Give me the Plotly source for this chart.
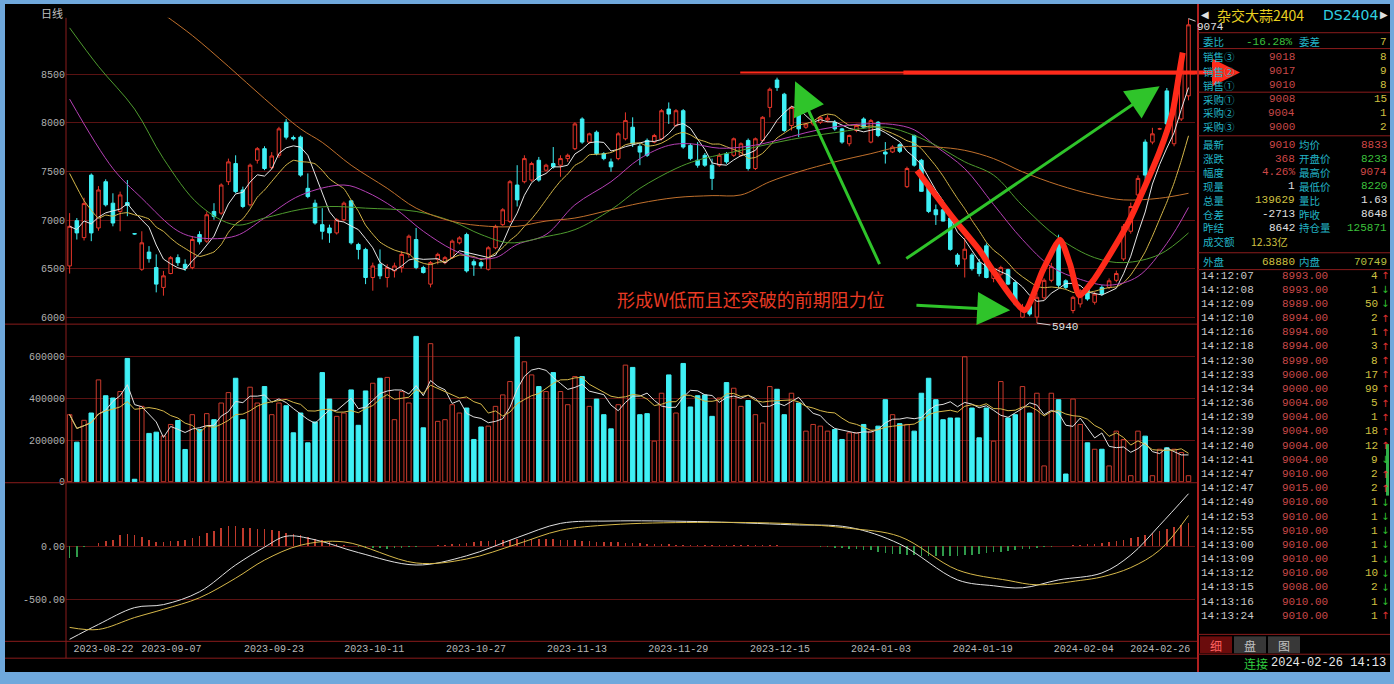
import plotly.graph_objects as go
import pandas as pd

W, H = 1394, 684
MONO = "Liberation Mono"
CJK = "Noto Sans CJK SC"

# ---------------- data ----------------
opens = [6528,6994,6820,7463,6919,7395,7174,7089,7180,6860,
         6494,6671,6511,6307,6450,6613,6545,6511,6851,6783,
         7089,7072,7395,7582,7310,7157,7616,7735,7540,7667,
         8007,7850,7854,7327,7174,6953,6919,6868,7004,7198,
         6749,6698,6409,6545,6409,6477,6511,6647,6800,6511,
         6341,6596,6562,6613,6766,6851,6572,6562,6494,6715,
         6953,6987,7361,7395,7412,7616,7514,7582,7565,7633,
         7735,8041,7803,7905,7684,7599,7633,7837,7956,7760,
         7820,7803,7837,8143,7973,8126,7769,7616,7667,7565,
         7565,7684,7667,7667,7820,7531,7820,8160,8442,8296,
         7973,8126,7956,7990,8007,8030,8007,7939,7786,7922,
         8041,7803,8007,7700,7701,7776,7344,7871,7616,7361,
         7106,7106,7021,6640,6600,6640,6560,6735,6400,6443,
         6490,6358,6000,6120,6001,6200,6380,6790,6375,6069,
         6137,6290,6154,6307,6307,6380,6600,6885,7259,7803,
         7803,7939,8330,7786,8041,8279]
highs = [7072,7021,7230,7480,7350,7420,7276,7293,7412,6865,
         6885,6732,6647,6477,6630,6647,6596,6834,6885,7089,
         7174,7378,7633,7667,7344,7582,7752,7760,7700,7960,
         8040,7870,7870,7480,7210,7123,6953,7021,7191,7208,
         6766,6715,6562,6698,6545,6562,6681,6851,6919,6530,
         6579,6664,6630,6800,6834,6870,6596,6580,6732,6953,
         7123,7412,7565,7667,7600,7650,7580,7752,7667,7684,
         8007,8058,7900,7922,7700,7633,7905,8109,8058,7786,
         7840,7888,8143,8211,8143,8143,7790,7803,7690,7633,
         7690,7700,7850,7800,7840,7850,8070,8364,8466,8310,
         8177,8143,8000,8040,8070,8080,8030,7950,7880,7990,
         8058,8041,8020,7803,7770,7790,7550,7880,7630,7378,
         7160,7120,7040,6660,6817,6660,6600,6760,6500,6530,
         6500,6380,6137,6130,6250,6400,6560,6850,6390,6220,
         6290,6310,6260,6330,6400,6480,6960,7180,7460,7830,
         7950,7950,8360,8230,8690,9074]
lows = [6450,6800,6790,6783,6890,7140,6936,6885,7040,6850,
        6477,6562,6256,6222,6443,6528,6477,6494,6749,6766,
        7004,7055,7361,7276,7123,7140,7582,7514,7520,7640,
        7830,7820,7446,7225,6953,6800,6766,6851,6987,6749,
        6596,6341,6273,6392,6307,6409,6460,6613,6494,6450,
        6307,6545,6545,6600,6750,6460,6426,6500,6480,6700,
        6940,6970,7140,7378,7395,7395,7500,7530,7446,7600,
        7720,7786,7786,7667,7616,7497,7616,7820,7752,7565,
        7650,7790,7820,7990,7960,7735,7616,7540,7548,7310,
        7548,7580,7650,7650,7510,7515,7800,8058,8330,7905,
        7922,7854,7940,7970,7990,8010,7920,7786,7760,7905,
        7940,7790,7854,7582,7690,7690,7330,7550,7293,7072,
        6950,6987,6684,6520,6409,6480,6420,6400,6360,6420,
        6330,6120,5990,6010,5940,6180,6360,6300,6290,6040,
        6100,6170,6130,6220,6290,6360,6580,6860,7240,7380,
        7780,7930,7980,7760,8020,8233]
closes = [6936,6868,7170,6868,7310,7157,6970,7259,7150,6858,
          6766,6603,6341,6426,6613,6562,6504,6800,6776,7055,
          7038,7361,7599,7293,7140,7565,7735,7531,7660,7939,
          7854,7837,7463,7242,6970,6885,6868,7004,7174,6766,
          6698,6409,6528,6426,6511,6528,6647,6834,6511,6460,
          6562,6647,6613,6783,6817,6477,6538,6528,6715,6936,
          7106,7395,7208,7633,7582,7412,7565,7548,7633,7667,
          7990,7803,7888,7684,7633,7548,7888,8024,7786,7700,
          7667,7871,8126,8092,8126,7752,7633,7565,7565,7429,
          7667,7599,7837,7786,7531,7837,8058,8347,8364,7922,
          8160,7939,7990,8024,8058,8050,7939,7803,7871,7973,
          7956,8024,7871,7680,7752,7708,7531,7565,7296,7089,
          7055,6990,6698,6545,6700,6500,6450,6409,6470,6511,
          6341,6137,6103,6032,6205,6380,6520,6330,6307,6205,
          6273,6188,6239,6239,6375,6450,6936,7140,7429,7463,
          7888,7939,7990,8211,8670,9010]
volumes = [322000,190000,295000,330000,489000,413000,402000,433000,592000,12000,
           362000,232000,238000,220000,275000,294000,155000,322000,251000,327000,
           298000,378000,428000,497000,298000,454000,378000,457000,322000,378000,
           365000,235000,330000,187000,287000,524000,397000,314000,330000,441000,
           271000,436000,473000,497000,501000,298000,433000,378000,698000,259000,
           663000,290000,298000,370000,330000,354000,203000,263000,267000,362000,
           417000,481000,695000,576000,513000,457000,433000,524000,433000,370000,
           505000,505000,362000,397000,322000,254000,370000,560000,549000,322000,
           327000,195000,425000,513000,330000,568000,359000,413000,417000,314000,
           402000,476000,449000,362000,390000,322000,282000,457000,444000,322000,
           425000,378000,243000,275000,267000,243000,251000,203000,235000,235000,
           275000,243000,267000,394000,322000,279000,275000,243000,425000,497000,
           394000,298000,306000,306000,600000,354000,211000,354000,195000,481000,
           306000,322000,457000,330000,425000,76000,425000,394000,37000,397000,
           275000,187000,156000,156000,76000,243000,203000,29000,243000,219000,
           29000,156000,163000,156000,140000,29000]
macd_hist = [-110,-100,-10,5,31,46,62,102,114,108,86,62,40,40,46,52,62,77,93,123,
             145,170,185,185,170,170,164,164,148,139,123,114,
             100,85,70,55,40,25,10,0,-10,
             -15,-20,-20,-25,-20,-15,-10,-5,0,5,10,15,20,25,30,
             40,45,50,55,60,62,65,68,70,70,68,65,62,58,55,50,45,42,40,38,
             35,32,30,28,25,22,20,18,15,14,13,12,10,10,10,9,8,8,8,8,9,10,8,6,5,
             3,2,0,-5,-10,-15,-20,-25,-30,-35,-40,-50,-60,-70,-75,
             -80,-85,-90,-95,-95,-95,-93,-90,-85,-80,-70,-60,-55,-50,-45,-40,-30,-25,-20,
             -10,-5,0,5,10,15,20,25,30,40,50,60,75,90,105,120,140,160,180,200,220]

# long moving averages at sample candles
ma10_head_idx = [0, 2, 4]
ma10_head_val = [7480, 7200, 7020]
ma20_idx = [0,6,10,15,18,23,27,32,38,41,45,49,53,56,59,62,66,70,75,79,83,86,90,94,98,102,106,110,114,117,120,124,128,132,136,140,144,148,152,155]
ma20_val = [8245,7531,7225,6888,6817,6837,7021,7256,7361,7293,7123,6885,6698,6613,6613,6749,6851,7157,7395,7633,7769,7786,7740,7760,7820,7900,7960,7990,7985,7930,7760,7530,7160,6800,6520,6390,6330,6420,6760,7130]
ma30_idx = [0,4,9,13,18,23,27,32,36,41,48,53,57,61,66,70,75,79,84,87,93,100,106,113,117,120,124,128,132,137,142,146,151,155]
ma30_val = [8979,8582,8143,7633,7154,6950,7021,7110,7140,7123,7089,6987,6851,6766,6830,6902,7106,7327,7531,7616,7718,7830,7900,7956,7871,7769,7600,7463,7150,6817,6613,6562,6647,6868]
ma60_idx = [13,17,22,27,32,35,39,44,48,53,58,62,66,70,75,79,84,89,93,97,101,106,111,115,120,124,128,132,137,142,146,151,155]
ma60_val = [9120,8900,8582,8250,7939,7800,7565,7327,7123,6987,6936,6936,6990,7021,7106,7174,7232,7252,7259,7395,7497,7599,7684,7752,7752,7718,7633,7497,7361,7259,7208,7225,7276]

dif_idx = [0,4,9,13,18,23,27,30,34,40,48,55,62,68,75,87,100,108,115,123,128,132,137,143,147,151,155]
dif_val = [-870,-731,-574,-546,-426,-176,-9,93,60,-60,-176,-90,80,213,235,230,200,176,20,-315,-370,-389,-315,-250,-83,195,490]
dea_idx = [0,4,9,13,18,23,27,32,38,48,55,62,68,75,87,100,108,115,123,130,134,140,143,147,151,155]
dea_val = [-759,-778,-667,-590,-482,-299,-130,9,40,-157,-120,20,148,200,222,210,167,90,-222,-320,-361,-320,-287,-200,-37,287]

date_labels = ["2023-08-22","2023-09-07","2023-09-23","2023-10-11","2023-10-27","2023-11-13",
               "2023-11-29","2023-12-15","2024-01-03","2024-01-19","2024-02-04","2024-02-26"]
date_pos = [4.7,14.1,28.3,42.2,56.3,70.3,84.3,98.4,112.4,126.5,140.5,151.1]

price_ticks = [6000,6500,7000,7500,8000,8500]
vol_ticks = [0,200000,400000,600000]
macd_ticks = [-500,0]

# hand-drawn overlay (in candle index / price units)
w_idx = [117.4,122.4,126.1,127.9,132.3,134.8,137.2,138.6,139.9,141.8,146.5,151.0,152.8,153.8,154.2]
w_val = [7511,7021,6684,6480,6072,6480,6797,6542,6225,6378,6950,7704,8112,8551,8724]
resist_level = 8520
resist_start_idx = 92.9
resist_thick_idx = 115.5
low_idx, low_val = 134, 5940
high_idx, high_val = 155, 9074
note_text = "形成W低而且还突破的前期阻力位"

# right side quote panel
header_name, header_code = "杂交大蒜2404", "DS2404"
book_labels = ["销售③","销售②","销售①","采购①","采购②","采购③"]
book_prices = ["9018","9017","9010","9008","9004","9000"]
book_vols = ["8","9","8","15","1","2"]
quote_l_labels = ["最新","涨跌","幅度","现量","总量","仓差","昨结","成交额"]
quote_l_vals = ["9010","368","4.26%","1","139629","-2713","8642","12.33亿"]
quote_r_labels = ["均价","开盘价","最高价","最低价","量比","昨收","持仓量"]
quote_r_vals = ["8833","8233","9074","8220","1.63","8648","125871"]
tick_times = ["14:12:07","14:12:08","14:12:09","14:12:10","14:12:16","14:12:18","14:12:30","14:12:33",
              "14:12:34","14:12:36","14:12:39","14:12:39","14:12:40","14:12:41","14:12:47","14:12:47",
              "14:12:49","14:12:53","14:12:55","14:13:00","14:13:09","14:13:12","14:13:15","14:13:16","14:13:24"]
tick_prices = ["8993.00","8993.00","8989.00","8994.00","8994.00","8994.00","8999.00","9000.00",
               "9000.00","9004.00","9004.00","9004.00","9004.00","9004.00","9010.00","9015.00",
               "9010.00","9010.00","9010.00","9010.00","9010.00","9010.00","9008.00","9010.00","9010.00"]
tick_vols = ["4","1","50","2","1","3","8","17","99","5","1","18","12","9","2","2",
             "1","1","1","1","1","10","2","1","1"]
tick_dirs = ["u","d","d","u","u","u","u","u","u","u","u","u","u","d","u","u",
             "d","d","d","d","d","d","d","d","u"]

# ---------------- derived ----------------
n = len(closes)
idx = list(range(n))
up = [c >= o for o, c in zip(opens, closes)]
cs = pd.Series(closes, dtype=float)
ma5 = cs.rolling(5, min_periods=1).mean()
ma10 = cs.rolling(10, min_periods=1).mean()
ma10_x = ma10_head_idx + idx[5:]
ma10_y = ma10_head_val + list(ma10[5:])
vs = pd.Series(volumes, dtype=float)
vma5 = vs.rolling(5, min_periods=1).mean()
vma10 = vs.rolling(10, min_periods=1).mean()

RED = "#e8362a"
CYAN = "#3ff0f5"
GRID = "#5a1212"
BORD = "#8a1c1c"

fig = go.Figure()

fig.add_trace(go.Candlestick(
    x=idx, open=opens, high=highs, low=lows, close=closes,
    increasing=dict(line=dict(color=RED, width=1), fillcolor="black"),
    decreasing=dict(line=dict(color=CYAN, width=1), fillcolor=CYAN),
    whiskerwidth=0, xaxis="x", yaxis="y", hoverinfo="skip"))

fig.add_trace(go.Scatter(x=idx, y=ma5, mode="lines", line=dict(color="#e6e6e6", width=1),
                         xaxis="x", yaxis="y", hoverinfo="skip"))
fig.add_trace(go.Scatter(x=ma10_x, y=ma10_y, mode="lines", line=dict(color="#d6b84a", width=1, shape="spline", smoothing=0.4),
                         xaxis="x", yaxis="y", hoverinfo="skip"))
for xs, ys, col in [(ma20_idx, ma20_val, "#b440b4"), (ma30_idx, ma30_val, "#4e9a2e"),
                    (ma60_idx, ma60_val, "#c0702c")]:
    fig.add_trace(go.Scatter(x=xs, y=ys, mode="lines", line=dict(color=col, width=1, shape="spline"),
                             xaxis="x", yaxis="y", hoverinfo="skip"))

# volume
fig.add_trace(go.Bar(
    x=idx, y=volumes, width=0.62,
    marker=dict(color=["rgba(0,0,0,0)" if u else CYAN for u in up],
                line=dict(color=["#c83a2c" if u else CYAN for u in up], width=1)),
    xaxis="x", yaxis="y2", hoverinfo="skip"))
fig.add_trace(go.Scatter(x=idx, y=vma5, mode="lines", line=dict(color="#e0e0e0", width=1),
                         xaxis="x", yaxis="y2", hoverinfo="skip"))
fig.add_trace(go.Scatter(x=idx, y=vma10, mode="lines", line=dict(color="#d6b84a", width=1),
                         xaxis="x", yaxis="y2", hoverinfo="skip"))

# MACD
fig.add_trace(go.Bar(
    x=idx, y=macd_hist, width=0.22,
    marker=dict(color=["#c03a2c" if v >= 0 else "#2f9a4a" for v in macd_hist], line=dict(width=0)),
    xaxis="x", yaxis="y3", hoverinfo="skip"))
fig.add_trace(go.Scatter(x=dif_idx, y=dif_val, mode="lines", line=dict(color="#e0e0e0", width=1, shape="spline"),
                         xaxis="x", yaxis="y3", hoverinfo="skip"))
fig.add_trace(go.Scatter(x=dea_idx, y=dea_val, mode="lines", line=dict(color="#d6b84a", width=1, shape="spline"),
                         xaxis="x", yaxis="y3", hoverinfo="skip"))

# W overlay
fig.add_trace(go.Scatter(x=w_idx, y=w_val, mode="lines",
                         line=dict(color="#ff2a1a", width=6, shape="spline", smoothing=0.6),
                         xaxis="x", yaxis="y", hoverinfo="skip"))

def fy(py):
    return 1 - py / H

def fx(px):
    return px / W

def idx_px(i):
    return 69.5 + 7.22 * i

annots = []

def ptext(x, y, text, color, size=11, family=MONO, xanchor="left"):
    annots.append(dict(xref="paper", yref="paper", x=fx(x), y=fy(y), text=text, showarrow=False,
                       font=dict(family=family, size=size, color=color), borderpad=0,
                       xanchor=xanchor, yanchor="middle"))

shapes = [
    dict(type="rect", xref="paper", yref="paper", x0=fx(5), x1=fx(1390), y0=fy(678), y1=fy(4),
         fillcolor="black", line=dict(width=0), layer="below"),
]

# red resistance line: thin at the left, thick towards the right, arrow head at the end
shapes.append(dict(type="line", xref="paper", yref="y", x0=fx(idx_px(resist_start_idx)),
                   x1=fx(idx_px(resist_thick_idx + 1)), y0=resist_level, y1=resist_level,
                   line=dict(color="#ff2a1a", width=2)))
shapes.append(dict(type="line", xref="paper", yref="y", x0=fx(idx_px(resist_thick_idx)),
                   x1=fx(1228), y0=resist_level, y1=resist_level,
                   line=dict(color="#ff2a1a", width=4)))
annots.append(dict(xref="paper", yref="y", x=fx(1240), y=resist_level, text="", showarrow=True,
                   ax=-30, ay=0, arrowhead=2, arrowsize=1.4, arrowwidth=4, arrowcolor="#ff2a1a"))
# green arrows
for (tx, ty, hx, hy) in [(112.3, 6531, 100.5, 8429), (115.7, 6593, 151.0, 8378), (117.1, 6123, 130.3, 6072)]:
    annots.append(dict(xref="x", yref="y", axref="x", ayref="y", x=hx, y=hy, ax=tx, ay=ty,
                       text="", showarrow=True, arrowhead=2, arrowsize=2.2, arrowwidth=3,
                       arrowcolor="#2fc42a"))
# low / high labels
annots.append(dict(xref="x", yref="y", x=low_idx, y=low_val, text=str(low_val), showarrow=True,
                   arrowhead=0, arrowwidth=1, arrowcolor="#d0d0d0", ax=28, ay=4,
                   font=dict(family=MONO, size=11, color="#e0e0e0")))
annots.append(dict(xref="x", yref="y", x=high_idx, y=high_val, text=str(high_val), showarrow=True,
                   arrowhead=0, arrowwidth=1, arrowcolor="#d0d0d0", ax=22, ay=8,
                   font=dict(family=MONO, size=11, color="#e0e0e0")))
# note
ptext(751, 302, note_text, "#e83a24", size=18, family=CJK, xanchor="center")
ptext(40, 13, "日线", "#c0c0c0", size=11, family=CJK)

# right panel
ptext(1260, 15, header_name, "#e8d020", size=14, family=CJK, xanchor="center")
ptext(1350, 15, header_code, "#30d0e0", size=14, family="DejaVu Sans", xanchor="center")
ptext(1200, 15, "◀", "#e0e0e0", size=10, family="DejaVu Sans")
ptext(1389, 15, "▶", "#e0e0e0", size=10, family="DejaVu Sans", xanchor="right")
LAB = "#22b4c6"
LS = 10.5
ptext(1202, 42, "委比", LAB, LS, CJK)
ptext(1294, 42, "-16.28%", "#3cc03c", 11, MONO, "right")
ptext(1298, 42, "委差", LAB, LS, CJK)
ptext(1388, 42, "7", "#d0c040", 11, MONO, "right")
book_y = [57, 72, 86, 100, 114, 128]
for lab, p, v, yy in zip(book_labels, book_prices, book_vols, book_y):
    ptext(1202, yy, lab, LAB, LS, CJK)
    ptext(1296, yy, p, "#c84848", 11, MONO, "right")
    ptext(1388, yy, v, "#d0c040", 11, MONO, "right")
quote_y = [146, 160, 174, 188, 202, 216, 230, 244]
lcols = ["#d04848", "#d04848", "#d04848", "#e0e0e0", "#d0c040", "#e0e0e0", "#e0e0e0", "#d0c040"]
rcols = ["#d04848", "#3cc03c", "#d04848", "#3cc03c", "#e0e0e0", "#e0e0e0", "#3cc03c"]
for i, yy in enumerate(quote_y):
    ptext(1202, yy, quote_l_labels[i], LAB, LS, CJK)
    if i < 7:
        ptext(1296, yy, quote_l_vals[i], lcols[i], 11, MONO, "right")
        ptext(1298, yy, quote_r_labels[i], LAB, LS, CJK)
        ptext(1388, yy, quote_r_vals[i], rcols[i], 11, MONO, "right")
    else:
        ptext(1250, yy, quote_l_vals[i], lcols[i], LS, CJK)
ptext(1202, 264, "外盘", LAB, LS, CJK)
ptext(1296, 264, "68880", "#d0c040", 11, MONO, "right")
ptext(1298, 264, "内盘", LAB, LS, CJK)
ptext(1388, 264, "70749", "#b8c040", 11, MONO, "right")
for i in range(len(tick_times)):
    yy = 278 + 14.3 * i
    ptext(1200, yy, tick_times[i], "#c8c8c8", 11, MONO)
    ptext(1329, yy, tick_prices[i], "#c84848", 11, MONO, "right")
    ptext(1379, yy, tick_vols[i], "#d0c040", 11, MONO, "right")
    if tick_dirs[i] == "u":
        ptext(1385, yy, "↑", "#e03030", 10, "DejaVu Sans", "center")
    else:
        ptext(1385, yy, "↓", "#30c030", 10, "DejaVu Sans", "center")
ptext(1216, 651, "细", "#ff6060", 12, CJK, "center")
ptext(1250, 651, "盘", "#c0c0c0", 12, CJK, "center")
ptext(1284, 651, "图", "#c0c0c0", 12, CJK, "center")
ptext(1256, 669, "连接", "#30d040", 12, CJK, "center")
ptext(1387, 669, "2024-02-26 14:13", "#e8e8e8", 12, MONO, "right")


def hline(y, x0, x1, color=BORD, w=1):
    shapes.append(dict(type="line", xref="paper", yref="paper", x0=fx(x0), x1=fx(x1), y0=fy(y), y1=fy(y),
                       line=dict(color=color, width=w)))

def vline(x, y0, y1, color=BORD, w=1):
    shapes.append(dict(type="line", xref="paper", yref="paper", x0=fx(x), x1=fx(x), y0=fy(y0), y1=fy(y1),
                       line=dict(color=color, width=w)))

vline(66, 18, 664)
for yy in [327, 487, 647, 664]:
    hline(yy, 5, 1197)
vline(1198, 4, 678, "#b02020", 2)
for yy in [33, 49, 93, 137, 255, 272, 640, 660]:
    hline(yy, 1198, 1390, "#8a1c1c")
shapes.append(dict(type="rect", xref="paper", yref="paper", x0=fx(1200), x1=fx(1232), y0=fy(659), y1=fy(642),
                   fillcolor="#6a0c0c", line=dict(width=0)))
shapes.append(dict(type="rect", xref="paper", yref="paper", x0=fx(1234), x1=fx(1266), y0=fy(659), y1=fy(642),
                   fillcolor="#383838", line=dict(width=0)))
shapes.append(dict(type="rect", xref="paper", yref="paper", x0=fx(1268), x1=fx(1300), y0=fy(659), y1=fy(642),
                   fillcolor="#383838", line=dict(width=0)))
shapes.append(dict(type="rect", xref="paper", yref="paper", x0=fx(1386), x1=fx(1389), y0=fy(500), y1=fy(448),
                   fillcolor="#2fb04a", line=dict(width=0)))

yax_common = dict(anchor="x", side="left", showgrid=True, gridcolor=GRID, gridwidth=1,
                  zeroline=False, showline=False, ticks="", fixedrange=True,
                  tickfont=dict(family=MONO, size=10, color="#b0b0b0"))

fig.update_layout(
    width=W, height=H, autosize=False,
    margin=dict(l=0, r=0, t=0, b=0),
    paper_bgcolor="#6fa8dc", plot_bgcolor="rgba(0,0,0,0)",
    showlegend=False, hovermode=False, bargap=0,
    xaxis=dict(domain=[fx(66), fx(1195)], range=[-0.5, 155.9], anchor="y3",
               showgrid=False, zeroline=False, showline=False, ticks="",
               tickvals=date_pos, ticktext=date_labels, tickangle=0,
               tickfont=dict(family=MONO, size=10, color="#b8b8b8"),
               rangeslider=dict(visible=False), fixedrange=True),
    yaxis=dict(domain=[fy(327), fy(18)], range=[5929, 9082],
               tickvals=price_ticks, ticktext=[str(v) for v in price_ticks], **yax_common),
    yaxis2=dict(domain=[fy(487), fy(332)], range=[-4762, 733000],
                tickvals=vol_ticks, ticktext=[str(v) for v in vol_ticks], **yax_common),
    yaxis3=dict(domain=[fy(647), fy(490)], range=[-889, 565],
                tickvals=macd_ticks, ticktext=["%.2f" % v for v in macd_ticks], **yax_common),
    annotations=annots,
    shapes=shapes,
)

fig.write_html("out.html", config={"displayModeBar": False, "staticPlot": True},
               post_script="document.body.style.margin='0';document.body.style.overflow='hidden';")
